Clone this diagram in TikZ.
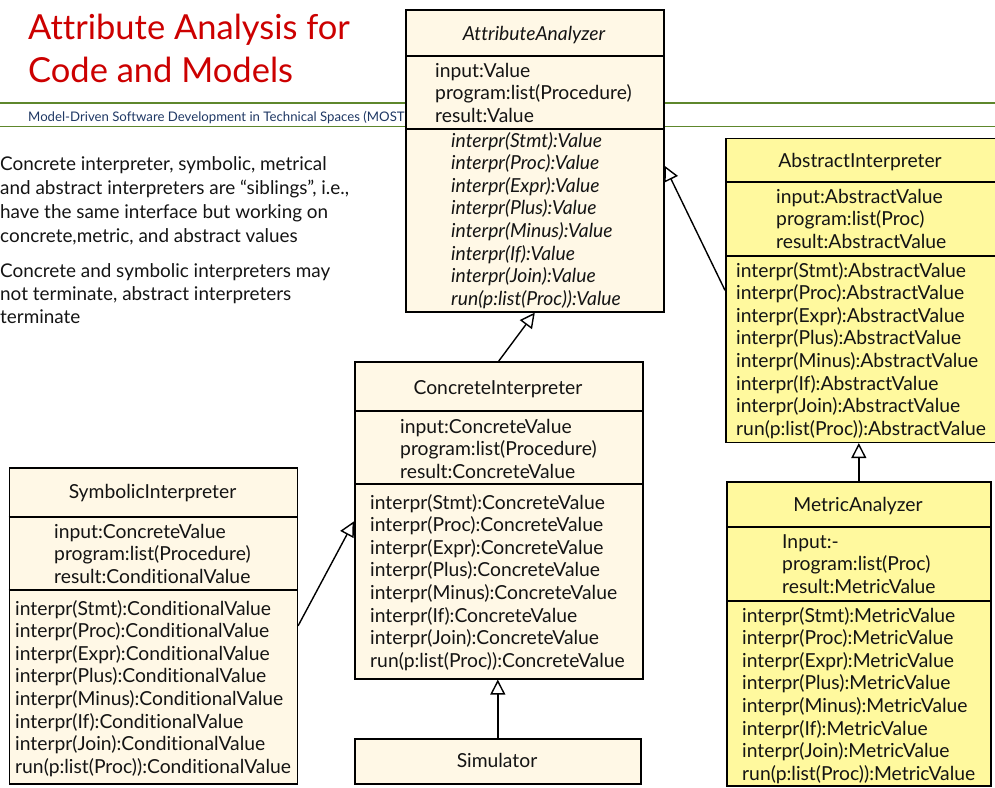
\documentclass[tikz,border=0pt]{standalone}
\usepackage{fontspec}
\setmainfont[Ligatures=NoCommon]{Lato}
\usetikzlibrary{arrows.meta}
\definecolor{titlered}{RGB}{204,0,0}
\definecolor{subblue}{RGB}{31,56,100}
\definecolor{rulegreen}{RGB}{94,135,44}
\definecolor{cream}{RGB}{255,248,230}
\definecolor{lightyellow}{RGB}{255,249,158}
\definecolor{ink}{RGB}{20,20,20}
\tikzset{
  classbox/.style={draw=black, line width=1.6pt, rectangle, inner sep=0pt, anchor=north west},
  sepline/.style={line width=1.6pt},
  boxtxt/.style={anchor=base west, inner sep=0pt, align=left, text=ink, font=\fontsize{19.3}{22.6}\selectfont},
  headtxt/.style={anchor=base, inner sep=0pt, text=ink, font=\fontsize{19.3}{22.6}\selectfont},
  paratxt/.style={anchor=base west, inner sep=0pt, align=left, text=ink},
  greenrule/.style={draw=rulegreen, line width=1.8pt},
  gen/.style={line width=1.4pt, -{Triangle[length=15pt, width=15pt, fill=white]}}
}
\begin{document}
\begin{tikzpicture}[x=1pt,y=-1pt]
\useasboundingbox (0,0) rectangle (995,787);
% header
\draw[greenrule] (0,103) -- (995,103);
\draw[greenrule] (0,126.5) -- (995,126.5);
\node[anchor=base west, inner sep=0pt, align=left, text=titlered, font=\fontsize{34.5}{42.5}\selectfont] (title) at (28,82) {Attribute Analysis for\\Code and Models};
\node[anchor=base west, inner sep=0pt, text=subblue, font=\fontsize{13.2}{15}\selectfont] (subtitle) at (28,121) {Model-Driven Software Development in Technical Spaces (MOST};
% paragraphs
\node[paratxt, font=\fontsize{18.9}{24.2}\selectfont] (para1) at (0,242.6) {Concrete interpreter, symbolic, metrical\\and abstract interpreters are “siblings”, i.e.,\\have the same interface but working on\\concrete,metric, and abstract values};
\node[paratxt, font=\fontsize{18.9}{23}\selectfont] (para2) at (0,323) {Concrete and symbolic interpreters may\\not terminate, abstract interpreters\\terminate};

% AttributeAnalyzer
\node[classbox, fill=cream, minimum width=258pt, minimum height=302pt] (aa) at (405,9) {};
\draw[sepline] (405,56) -- (663,56);
\draw[sepline] (405,129) -- (663,129);
\node[headtxt, font=\fontsize{19.3}{22.6}\selectfont\itshape] (aa-h) at (534,40) {AttributeAnalyzer};
\node[boxtxt] (aa-a) at (435,122.2) {input:Value\\program:list(Procedure)\\result:Value};
\node[boxtxt, font=\fontsize{19.3}{22.6}\selectfont\itshape] (aa-m) at (451,305.2) {interpr(Stmt):Value\\interpr(Proc):Value\\interpr(Expr):Value\\interpr(Plus):Value\\interpr(Minus):Value\\interpr(If):Value\\interpr(Join):Value\\run(p:list(Proc)):Value};

% AbstractInterpreter
\node[classbox, fill=lightyellow, minimum width=272pt, minimum height=304pt] (ai) at (725,137.5) {};
\draw[sepline] (725,181.7) -- (997,181.7);
\draw[sepline] (725,256) -- (997,256);
\node[headtxt] (ai-h) at (860,167) {AbstractInterpreter};
\node[boxtxt] (ai-a) at (776,248.2) {input:AbstractValue\\program:list(Proc)\\result:AbstractValue};
\node[boxtxt] (ai-m) at (736,435.2) {interpr(Stmt):AbstractValue\\interpr(Proc):AbstractValue\\interpr(Expr):AbstractValue\\interpr(Plus):AbstractValue\\interpr(Minus):AbstractValue\\interpr(If):AbstractValue\\interpr(Join):AbstractValue\\run(p:list(Proc)):AbstractValue};

% ConcreteInterpreter
\node[classbox, fill=cream, minimum width=288pt, minimum height=317pt] (ci) at (354,361) {};
\draw[sepline] (354,411) -- (642,411);
\draw[sepline] (354,484) -- (642,484);
\node[headtxt] (ci-h) at (498,394) {ConcreteInterpreter};
\node[boxtxt] (ci-a) at (400,478.2) {input:ConcreteValue\\program:list(Procedure)\\result:ConcreteValue};
\node[boxtxt] (ci-m) at (370,667.2) {interpr(Stmt):ConcreteValue\\interpr(Proc):ConcreteValue\\interpr(Expr):ConcreteValue\\interpr(Plus):ConcreteValue\\interpr(Minus):ConcreteValue\\interpr(If):ConcreteValue\\interpr(Join):ConcreteValue\\run(p:list(Proc)):ConcreteValue};

% SymbolicInterpreter
\node[classbox, fill=cream, minimum width=288pt, minimum height=316pt] (si) at (8.5,467) {};
\draw[sepline] (8.5,517) -- (296.5,517);
\draw[sepline] (8.5,590) -- (296.5,590);
\node[headtxt] (si-h) at (152.5,498) {SymbolicInterpreter};
\node[boxtxt] (si-a) at (54,583.2) {input:ConcreteValue\\program:list(Procedure)\\result:ConditionalValue};
\node[boxtxt] (si-m) at (15,773.2) {interpr(Stmt):ConditionalValue\\interpr(Proc):ConditionalValue\\interpr(Expr):ConditionalValue\\interpr(Plus):ConditionalValue\\interpr(Minus):ConditionalValue\\interpr(If):ConditionalValue\\interpr(Join):ConditionalValue\\run(p:list(Proc)):ConditionalValue};

% Simulator
\node[classbox, fill=cream, minimum width=286pt, minimum height=45pt] (sim) at (354,738) {};
\node[headtxt] (sim-h) at (497,767.5) {Simulator};

% MetricAnalyzer
\node[classbox, fill=lightyellow, minimum width=264pt, minimum height=304pt] (ma) at (726,481) {};
\draw[sepline] (726,527) -- (990,527);
\draw[sepline] (726,600.7) -- (990,600.7);
\node[headtxt] (ma-h) at (858,511) {MetricAnalyzer};
\node[boxtxt] (ma-a) at (782,593.2) {Input:-\\program:list(Proc)\\result:MetricValue};
\node[boxtxt] (ma-m) at (742,780.2) {interpr(Stmt):MetricValue\\interpr(Proc):MetricValue\\interpr(Expr):MetricValue\\interpr(Plus):MetricValue\\interpr(Minus):MetricValue\\interpr(If):MetricValue\\interpr(Join):MetricValue\\run(p:list(Proc)):MetricValue};

% generalisations
\draw[gen] (ci.north) -- (aa.south);
\draw[gen] (ai.west) -- ([yshift=-5pt]aa.east);
\draw[gen] (si.east) -- ([yshift=-1pt]ci.west);
\draw[gen] (sim.north) -- (sim.north |- ci.south);
\draw[gen] (ma.north) -- (ma.north |- ai.south);
\end{tikzpicture}
\end{document}
